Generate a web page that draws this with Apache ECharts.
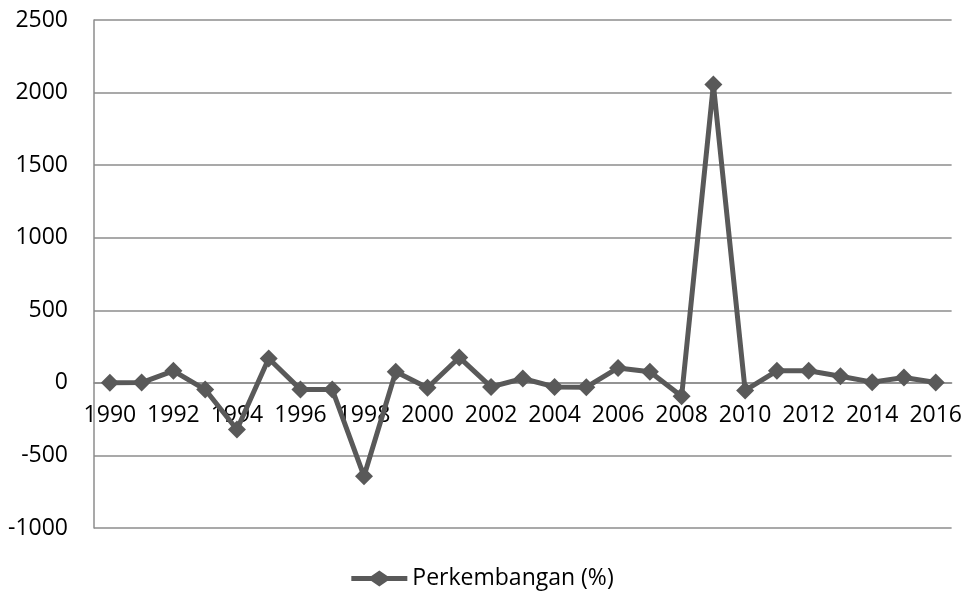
<!DOCTYPE html>
<html>
<head>
<meta charset="utf-8">
<script src="https://cdn.jsdelivr.net/npm/echarts@6/dist/echarts.min.js"></script>
<style>
  html, body { margin: 0; padding: 0; background: #fff; }
  #chart { width: 965px; height: 595px; }
</style>
</head>
<body>
<div id="chart"></div>
<script>
// data
const years = ['1990', '1991', '1992', '1993', '1994', '1995', '1996', '1997', '1998', '1999',
  '2000', '2001', '2002', '2003', '2004', '2005', '2006', '2007', '2008', '2009',
  '2010', '2011', '2012', '2013', '2014', '2015', '2016']
const perkembangan = [0, 2, 83, -46, -321, 168, -45, -45, -643, 76,
  -34, 175, -28, 30, -28, -30, 103, 76, -92, 2055,
  -52, 83, 83, 46, 5, 37, 3]
const seriesName = 'Perkembangan (%)'
const yMin = -1000
const yMax = 2500

const chart = echarts.init(document.getElementById('chart'))
const font = '"Open Sans", sans-serif'
const gridColor = '#8c8c8c'
const gridTop = 20
const gridBottom = 67
const plotHeight = 595 - gridTop - gridBottom

// onZero isn't taking effect, so shift the category axis up to the 0 line
const zeroOffset = -plotHeight * (0 - yMin) / (yMax - yMin)

// legend icon: line with a diamond in the middle
const lineDiamond = 'path://M0,5.5L20,5.5L28,0L36,5.5L56,5.5L56,10.5L36,10.5L28,16L20,10.5L0,10.5Z'

chart.setOption({
  animation: false,
  textStyle: { fontFamily: font, color: '#000' },
  grid: { left: 94, right: 12, top: gridTop, bottom: gridBottom },
  legend: {
    bottom: 0,
    left: 'center',
    itemWidth: 56,
    itemHeight: 16,
    itemGap: 5,
    textStyle: { fontSize: 23, color: '#000', fontFamily: font },
    data: [{ name: seriesName, icon: lineDiamond }]
  },
  xAxis: {
    type: 'category',
    data: years,
    boundaryGap: true,
    offset: zeroOffset,
    axisLine: { onZero: false, lineStyle: { color: gridColor, width: 1.5 } },
    axisTick: { show: false },
    axisLabel: { interval: 1, fontSize: 23, color: '#000', margin: 21 },
    splitLine: { show: false }
  },
  yAxis: {
    type: 'value',
    min: yMin,
    max: yMax,
    interval: 500,
    axisLine: { show: true, lineStyle: { color: gridColor, width: 1.5 } },
    axisTick: { show: false },
    axisLabel: { fontSize: 23, color: '#000', margin: 26, formatter: v => String(v) },
    splitLine: { lineStyle: { color: gridColor, width: 1.5 } }
  },
  series: [{
    name: seriesName,
    type: 'line',
    z: 10,
    data: perkembangan,
    symbol: 'diamond',
    symbolSize: 18,
    showAllSymbol: true,
    lineStyle: { color: '#595959', width: 5 },
    itemStyle: { color: '#595959' }
  }]
})
</script>
</body>
</html>
